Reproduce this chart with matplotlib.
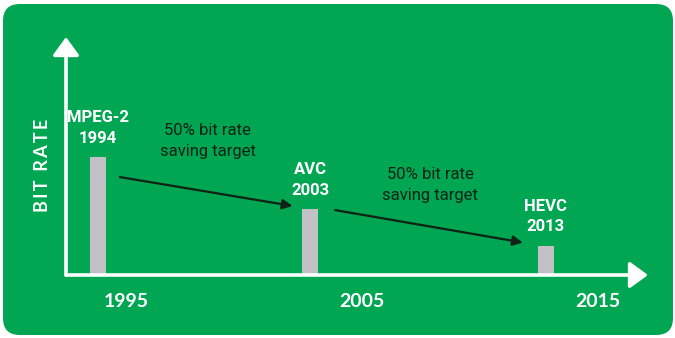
import matplotlib
matplotlib.use("Agg")
import matplotlib.pyplot as plt
import matplotlib.transforms as mtransforms
from matplotlib.patches import FancyBboxPatch

# codec generations and their relative bit rate
codecs = ["MPEG-2", "AVC", "HEVC"]
years = [1994, 2003, 2013]
bit_rate = [100, 56, 25]
tick_years = [1995, 2005, 2015]
saving_label = "50% bit rate\nsaving target"

GREEN = "#00a651"
BAR = "#c2c2c6"
INK = "#0e2216"
NARROW = ["Roboto", "DejaVu Sans"]

fig = plt.figure(figsize=(6.75, 3.38), dpi=100)
fig.patch.set_facecolor("white")

# rounded green panel behind everything
panel = FancyBboxPatch((3 / 675, 3 / 338), 670 / 675, 331 / 338,
                       boxstyle="round,pad=0,rounding_size=0.025",
                       transform=fig.transFigure, facecolor=GREEN,
                       edgecolor="none", mutation_aspect=2.0, zorder=-5)
fig.patches.append(panel)

ax = fig.add_axes([66 / 675, 63 / 338, 582 / 675, 238 / 338])
ax.set_zorder(1)
ax.set_facecolor("none")
ax.set_xlim(1992.64, 2017.33)
ax.set_ylim(0, 201.7)
for s in ax.spines.values():
    s.set_visible(False)
ax.set_yticks([])

# axes drawn as white arrows
arrow_kw = dict(arrowstyle="-|>,head_length=1.1,head_width=0.8",
                color="white", lw=2.6, shrinkA=0, shrinkB=0)
ax.annotate("", xy=(0, 1), xytext=(0, 0), xycoords="axes fraction",
            arrowprops=arrow_kw, annotation_clip=False)
ax.annotate("", xy=(1, 0), xytext=(0, 0), xycoords="axes fraction",
            arrowprops=arrow_kw, annotation_clip=False)

ax.bar(years, bit_rate, width=0.68, color=BAR, zorder=2)

for name, yr, val in zip(codecs, years, bit_rate):
    ax.annotate(f"{name}\n{yr}", xy=(yr, val), xytext=(0, 8),
                textcoords="offset points", ha="center", va="bottom",
                color="white", fontsize=12, fontweight="bold",
                family=NARROW, linespacing=1.45)

# saving arrows between successive generations
arrows = [((1994.93, 83), (2002.25, 58.5), (1998.66, 113.6)),
          ((2004.06, 55), (2012.02, 27.5), (2008.08, 76.3))]
for start, end, txt in arrows:
    ax.annotate("", xy=end, xytext=start,
                arrowprops=dict(arrowstyle="-|>,head_length=0.6,head_width=0.3",
                                color=INK, lw=1.6, shrinkA=0, shrinkB=0))
    ax.text(txt[0], txt[1], saving_label, ha="center", va="center",
            color=INK, fontsize=12, family=NARROW, linespacing=1.5)

ax.set_xticks(tick_years)
ax.set_xticklabels([str(y) for y in tick_years], color="white",
                   fontsize=14, fontweight="bold", family="Lato")
ax.tick_params(axis="x", length=0, pad=13)
shift = mtransforms.ScaledTranslation(5 / 100, 0, fig.dpi_scale_trans)
for lbl in ax.get_xticklabels():
    lbl.set_transform(lbl.get_transform() + shift)

fig.text(43 / 675, 1 - 165 / 338, "B\u2009I\u2009T  R\u2009A\u2009T\u2009E",
         rotation=90, ha="center", va="center", color="white", fontsize=13,
         fontweight="bold", family=["Lato", "DejaVu Sans"])

fig.savefig("out.png", dpi=100, facecolor="white")
